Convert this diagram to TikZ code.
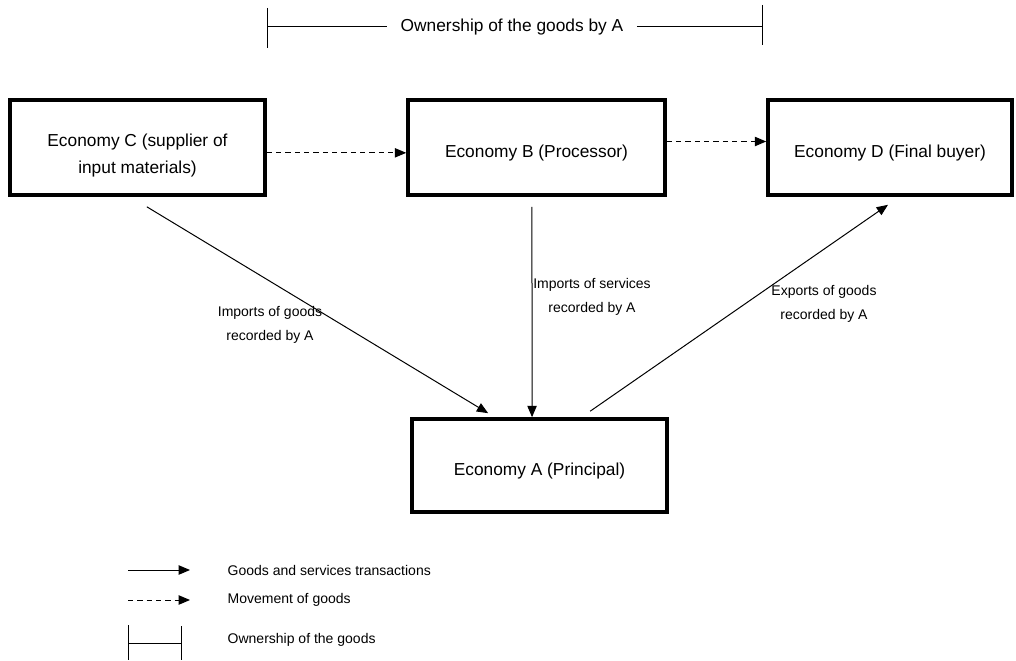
\documentclass[tikz,border=0pt]{standalone}
\usepackage{fontspec}
\setmainfont{Liberation Sans}
\usetikzlibrary{arrows.meta}

\begin{document}
\begin{tikzpicture}[x=0.75pt, y=-0.75pt,
    econbox/.style={draw, line width=2.7pt, rectangle, align=center, font=\fontsize{13}{20}\selectfont, inner sep=0pt, text height=17pt},
    flowlabel/.style={align=center, font=\fontsize{10.5}{18}\selectfont},
    legendtext/.style={anchor=west, font=\fontsize{10.5}{13}\selectfont},
    trans/.style={-{Triangle[length=8.5pt, width=7pt]}, line width=0.75pt},
    move/.style={-{Triangle[length=8.5pt, width=7pt]}, line width=0.75pt, dash pattern=on 4pt off 3pt},
    owner/.style={line width=0.75pt}]
    \useasboundingbox (0,0) rectangle (1016,660);

    % Economy boxes
    \node[econbox, text height=41pt, minimum width=191.25pt, minimum height=71.25pt] (econ_c) at (137.5,147.5) {Economy C (supplier of\\input materials)};
    \node[econbox, minimum width=192.75pt, minimum height=71.25pt] (econ_b) at (536.5,147.5) {Economy B (Processor)};
    \node[econbox, minimum width=183pt, minimum height=71.25pt] (econ_d) at (890,147.5) {Economy D (Final buyer)};
    \node[econbox, minimum width=191.25pt, minimum height=69.75pt] (econ_a) at (539.5,465.5) {Economy A (Principal)};

    % Ownership bracket
    \coordinate (own_l) at (267,27);
    \coordinate (own_r) at (762,27);
    \node[font=\fontsize{13}{16}\selectfont, inner xsep=10pt] (own_text) at (512,27) {Ownership of the goods by A};
    \draw[owner] (267,8) -- (267,48);
    \draw[owner] (762,5) -- (762,45);
    \draw[owner] (own_l) -- (own_text);
    \draw[owner] (own_text) -- (own_r);

    % Movement of goods
    \draw[move] ([yshift=-4pt]econ_c.east) -- ([yshift=-4pt]econ_b.west);
    \draw[move] ([yshift=4.5pt]econ_b.east) -- ([yshift=4.5pt]econ_d.west);

    % Transactions
    \draw[trans] ([shift={(7pt,-7.5pt)}]econ_c.south) -- ([shift={(-38.5pt,3pt)}]econ_a.north);
    \draw[trans] ([shift={(-3.4pt,-7.5pt)}]econ_b.south) -- ([shift={(-5.6pt,0pt)}]econ_a.north);
    \draw[trans] ([shift={(38pt,4.5pt)}]econ_a.north) -- ([shift={(-1.5pt,-6pt)}]econ_d.south);

    % Labels
    \node[flowlabel] (lbl_imp_goods) at (270,325) {Imports of goods\\recorded by A};
    \node[flowlabel] (lbl_imp_serv) at (592,297) {Imports of services\\recorded by A};
    \node[flowlabel] (lbl_exp_goods) at (824,304) {Exports of goods\\recorded by A};

    % Legend
    \coordinate (leg1_a) at (128,570);
    \coordinate (leg1_b) at (190,570);
    \coordinate (leg2_a) at (128,600);
    \coordinate (leg2_b) at (190,600);
    \draw[trans] (leg1_a) -- (leg1_b);
    \draw[move] (leg2_a) -- (leg2_b);
    \draw[owner] (128,625) -- (128,660);
    \draw[owner] (181,626) -- (181,660);
    \draw[owner] (128,643) -- (181,643);
    \node[legendtext] (leg1_text) at (223,570) {Goods and services transactions};
    \node[legendtext] (leg2_text) at (223,600) {Movement of goods};
    \node[legendtext] (leg3_text) at (223,640) {Ownership of the goods};
\end{tikzpicture}
\end{document}
